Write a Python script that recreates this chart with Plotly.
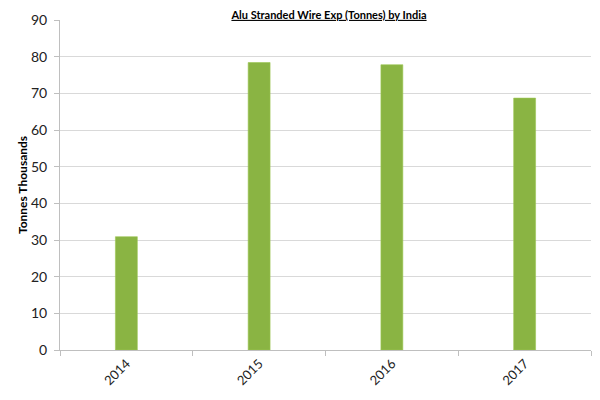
import plotly.graph_objects as go

# chart data
years = ['2014', '2015', '2016', '2017']
exports = [30.9, 78.4, 77.8, 68.7]

fig = go.Figure()
fig.add_trace(go.Bar(
    x=years, y=exports,
    marker=dict(color='#8AB443', line=dict(color='#9CC652', width=0.6)),
    width=0.165,
))

# page body has an 8px margin, so margins are shifted to line up with the reference
fig.update_layout(
    width=600, height=400,
    margin=dict(l=52, r=17, t=12, b=58, autoexpand=False),
    plot_bgcolor='white', paper_bgcolor='white',
    font=dict(family='Lato, Liberation Sans, sans-serif', color='#222222'),
    showlegend=False,
    title=dict(text='<b><u>Alu Stranded Wire Exp (Tonnes) by India</u></b>',
               x=0.535, xanchor='center', y=0.9825, yref='container', yanchor='middle',
               font=dict(size=11, color='black')),
)
fig.update_yaxes(
    range=[0, 90], dtick=10, showgrid=True, gridcolor='#D9D9D9', gridwidth=1,
    showline=True, linecolor='#BFBFBF', ticks='outside', ticklen=5, tickcolor='#BFBFBF',
    tickfont=dict(size=14, color='#222222'), ticklabelstandoff=4, zeroline=False,
    automargin=False,
    title=dict(text='<b>Tonnes Thousands</b>', font=dict(size=12, color='black'), standoff=0),
)
fig.update_xaxes(
    type='category', tickson='boundaries', ticks='outside', ticklen=5, tickcolor='#BFBFBF',
    showline=True, linecolor='#BFBFBF', tickangle=-45, showgrid=False, automargin=False,
    tickfont=dict(size=13, color='#222222'),
)

fig.write_html("out.html")
